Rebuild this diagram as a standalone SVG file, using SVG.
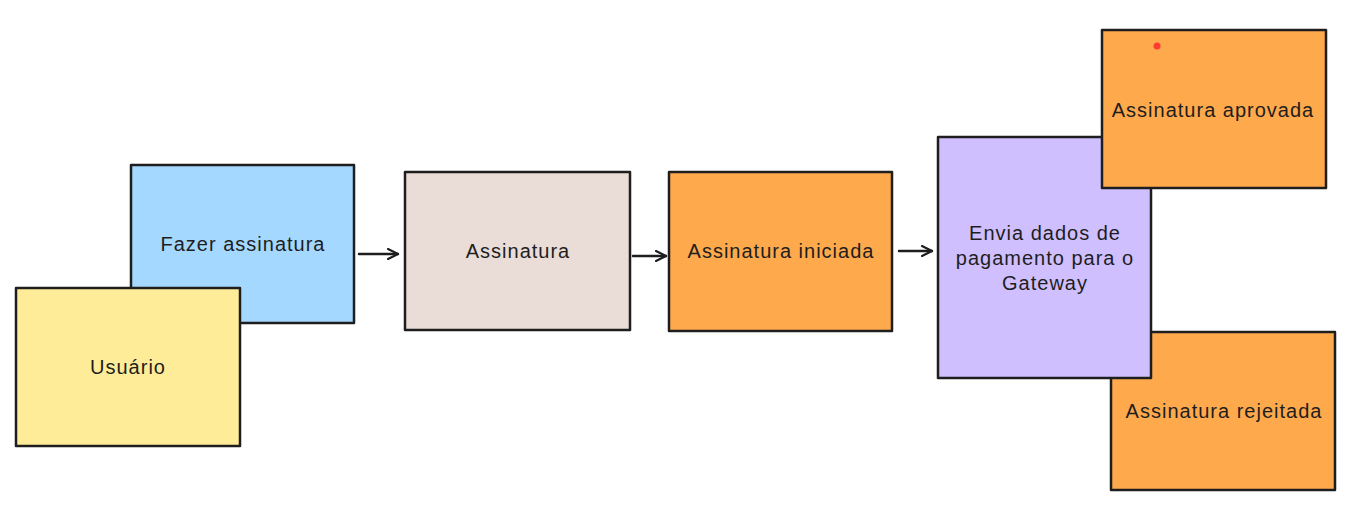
<svg xmlns="http://www.w3.org/2000/svg" width="1352" height="507" viewBox="0 0 1352 507">
<defs>
<style>
.box{stroke:#1e1e1e;stroke-width:2.5;stroke-linejoin:round}
.lbl{font-family:"Liberation Sans",Arial,sans-serif;font-size:20px;letter-spacing:1px;fill:#1e1e1e;text-anchor:middle;dominant-baseline:central}
.conn{stroke:#1e1e1e;stroke-width:2.5;fill:none;stroke-linecap:round}
</style>
<marker id="arr" viewBox="0 0 12 12" refX="11" refY="6" markerWidth="12" markerHeight="12" markerUnits="userSpaceOnUse" orient="auto">
<path d="M1,1 L11,6 L1,11" fill="none" stroke="#1e1e1e" stroke-width="2.2" stroke-linecap="round" stroke-linejoin="round"/>
</marker>
</defs>
<rect width="1352" height="507" fill="#ffffff"/>
<g id="fazer">
<rect class="box" x="131" y="165" width="223" height="158" fill="#a5d8ff"/>
<text class="lbl" x="243" y="244">Fazer assinatura</text>
</g>
<g id="usuario">
<rect class="box" x="16" y="288" width="224" height="158" fill="#ffec99"/>
<text class="lbl" x="128" y="367">Usuário</text>
</g>
<g id="assinatura">
<rect class="box" x="405" y="172" width="225" height="158" fill="#eaddd7"/>
<text class="lbl" x="518" y="251">Assinatura</text>
</g>
<g id="iniciada">
<rect class="box" x="669" y="172" width="223" height="159" fill="#ffa94d"/>
<text class="lbl" x="781" y="251">Assinatura iniciada</text>
</g>
<g id="rejeitada">
<rect class="box" x="1111" y="332" width="224" height="158" fill="#ffa94d"/>
<text class="lbl" x="1224" y="411">Assinatura rejeitada</text>
</g>
<g id="envia">
<rect class="box" x="938" y="137" width="213" height="241" fill="#d0bfff"/>
<text class="lbl" x="1045" y="233">Envia dados de</text>
<text class="lbl" x="1045" y="258">pagamento para o</text>
<text class="lbl" x="1045" y="283">Gateway</text>
</g>
<g id="aprovada">
<rect class="box" x="1102" y="30" width="224" height="158" fill="#ffa94d"/>
<text class="lbl" x="1213" y="110">Assinatura aprovada</text>
</g>
<g id="connectors">
<line class="conn" x1="359" y1="254" x2="398" y2="254" marker-end="url(#arr)"/>
<line class="conn" x1="633" y1="256" x2="666" y2="256" marker-end="url(#arr)"/>
<line class="conn" x1="899" y1="251" x2="932" y2="251" marker-end="url(#arr)"/>
</g>
<circle cx="1157" cy="46" r="3.5" fill="#ff3b30"/>
</svg>
